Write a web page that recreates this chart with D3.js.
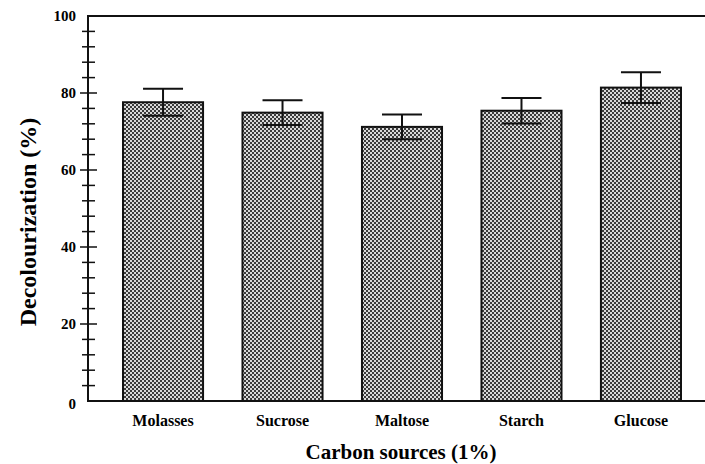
<!DOCTYPE html>
<html>
<head>
<meta charset="utf-8">
<script src="https://cdn.jsdelivr.net/npm/d3@7"></script>
<style>
  body { margin: 0; background: #fff; }
  text { font-family: "Liberation Serif", "Times New Roman", serif; font-weight: bold; fill: #000; }
</style>
</head>
<body>
<svg id="chart" width="705" height="464"></svg>
<script>
// data
const categories = ["Molasses", "Sucrose", "Maltose", "Starch", "Glucose"];
const values = [77.6, 74.9, 71.2, 75.4, 81.4];
const errors = [3.5, 3.2, 3.2, 3.3, 4.0];
const yTicks = [0, 20, 40, 60, 80, 100];

const width = 705, height = 464;
const margin = {top: 16, right: 0, bottom: 63, left: 88};

const svg = d3.select("svg#chart");

const x = d3.scaleBand()
    .domain(categories)
    .range([margin.left, 716])
    .paddingInner(0.33)
    .paddingOuter(0.293);

const y = d3.scaleLinear()
    .domain([0, 100])
    .range([height - margin.bottom, margin.top]);

// checker fill like the original halftone
const defs = svg.append("defs");
const pat = defs.append("pattern")
    .attr("id", "checker")
    .attr("patternUnits", "userSpaceOnUse")
    .attr("width", 4)
    .attr("height", 4);
pat.append("rect").attr("width", 4).attr("height", 4).attr("fill", "#d8d8d8");
pat.append("rect").attr("width", 2).attr("height", 2).attr("fill", "#3a3a3a");
pat.append("rect").attr("x", 2).attr("y", 2).attr("width", 2).attr("height", 2).attr("fill", "#3a3a3a");

// bars
svg.append("g")
    .selectAll("rect")
    .data(categories)
    .enter()
    .append("rect")
    .attr("x", d => x(d))
    .attr("y", (d, i) => y(values[i]))
    .attr("width", x.bandwidth())
    .attr("height", (d, i) => y(0) - y(values[i]))
    .attr("fill", "url(#checker)")
    .attr("stroke", "#111")
    .attr("stroke-width", 2);

// error bars
const err = svg.append("g")
    .attr("stroke", "#111")
    .attr("stroke-width", 2)
    .selectAll("g")
    .data(categories)
    .enter()
    .append("g");

const cx = d => x(d) + x.bandwidth() / 2;
const capW = 20;

err.append("line")
    .attr("x1", cx).attr("x2", cx)
    .attr("y1", (d, i) => y(values[i] + errors[i]))
    .attr("y2", (d, i) => y(values[i] - errors[i]));
err.append("line")
    .attr("x1", d => cx(d) - capW).attr("x2", d => cx(d) + capW)
    .attr("y1", (d, i) => y(values[i] + errors[i]))
    .attr("y2", (d, i) => y(values[i] + errors[i]));
err.append("line")
    .attr("x1", d => cx(d) - capW).attr("x2", d => cx(d) + capW)
    .attr("y1", (d, i) => y(values[i] - errors[i]))
    .attr("y2", (d, i) => y(values[i] - errors[i]));

// frame lines: left axis, top and bottom running to the edge
const frame = svg.append("g").attr("stroke", "#111").attr("stroke-width", 2);
frame.append("line")
    .attr("x1", margin.left).attr("x2", margin.left)
    .attr("y1", y(100)).attr("y2", y(0));
frame.append("line")
    .attr("x1", margin.left - 1).attr("x2", width)
    .attr("y1", y(100)).attr("y2", y(100));
frame.append("line")
    .attr("x1", margin.left - 1).attr("x2", width)
    .attr("y1", y(0)).attr("y2", y(0));

// minor ticks every 4
const minor = d3.range(0, 101, 4).filter(v => v % 20 !== 0);
svg.append("g")
    .attr("stroke", "#111")
    .attr("stroke-width", 1.5)
    .selectAll("line")
    .data(minor)
    .enter()
    .append("line")
    .attr("x1", margin.left - 6).attr("x2", margin.left + 7)
    .attr("y1", d => y(d)).attr("y2", d => y(d));

// major ticks
svg.append("g")
    .attr("stroke", "#111")
    .attr("stroke-width", 1.5)
    .selectAll("line")
    .data(yTicks.filter(v => v > 0 && v < 100))
    .enter()
    .append("line")
    .attr("x1", margin.left - 8).attr("x2", margin.left + 9)
    .attr("y1", d => y(d)).attr("y2", d => y(d));

// y tick labels
svg.append("g")
    .selectAll("text")
    .data(yTicks)
    .enter()
    .append("text")
    .attr("x", 76)
    .attr("y", d => d === 0 ? y(d) + 3 : y(d))
    .attr("dy", "0.35em")
    .attr("text-anchor", "end")
    .style("font-size", "15px")
    .text(d => d);

// category labels
svg.append("g")
    .selectAll("text")
    .data(categories)
    .enter()
    .append("text")
    .attr("x", cx)
    .attr("y", 426)
    .attr("text-anchor", "middle")
    .style("font-size", "16px")
    .text(d => d);

// axis titles
svg.append("text")
    .attr("x", 401)
    .attr("y", 459)
    .attr("text-anchor", "middle")
    .style("font-size", "21px")
    .text("Carbon sources (1%)");

svg.append("text")
    .attr("transform", "translate(36, 222) rotate(-90)")
    .attr("text-anchor", "middle")
    .style("font-size", "24px")
    .text("Decolourization (%)");
</script>
</body>
</html>
